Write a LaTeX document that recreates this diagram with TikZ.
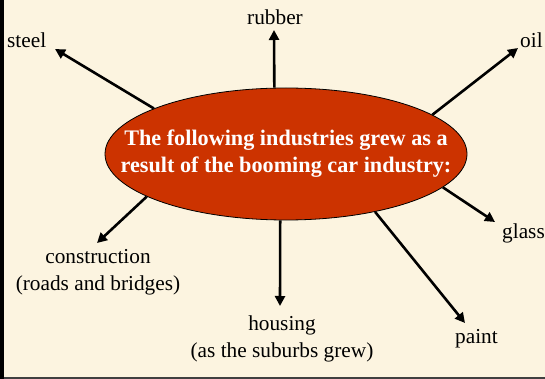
\documentclass[tikz,border=0pt]{standalone}
\usepackage{fontspec}
\setmainfont{Liberation Serif}
\usetikzlibrary{shapes.geometric,arrows.meta}
\definecolor{bgcream}{HTML}{FCF4E0}
\definecolor{ovalred}{HTML}{CC3300}
\definecolor{frameline}{HTML}{404040}
\tikzset{
  lbl/.style={inner sep=0pt, font=\fontsize{21.3}{27}\selectfont, text=black},
  multilbl/.style={lbl, align=center},
  spoke/.style={line width=2.6pt, -{Triangle[length=10pt,width=10pt]}},
}
\begin{document}
\begin{tikzpicture}[x=1pt,y=-1pt]
\useasboundingbox (0,0) rectangle (545,379);
\fill[bgcream] (0,0) rectangle (545,379);
\draw[frameline, line width=2.5pt] (0,377.8) -- (545,377.8);
\draw[black, line width=4pt] (2,0) -- (2,379);

\node[ellipse, draw=black, line width=0.8pt, fill=ovalred, minimum width=362pt, minimum height=132pt, inner sep=0pt] (ell) at (286,154) {};
\node[inner sep=0pt, align=center, text=white, font=\fontsize{22.2}{27}\bfseries] (ttl) at (286,153.5) {The following industries grew as a\\result of the booming car industry:};

\node[lbl, anchor=base west] (steel) at (7,48) {steel};
\node[lbl, anchor=base] (rubber) at (275,25) {rubber};
\node[lbl, anchor=base west] (oil) at (520,48) {oil};
\node[lbl, anchor=base west] (glass) at (502,238) {glass};
\node[lbl, anchor=base west] (paint) at (455,343) {paint};
\node[multilbl] (housing) at (282,339) {housing\\(as the suburbs grew)};
\node[multilbl] (constr) at (98,272) {construction\\(roads and bridges)};

\coordinate (tSteel) at (55,49);
\coordinate (tRubber) at (274,30);
\coordinate (tOil) at (518,48);
\coordinate (tGlass) at (495,222);
\coordinate (tPaint) at (465,323);
\coordinate (tHousing) at (280,306);
\coordinate (tConstr) at (97,243);

\draw[spoke] (ell.161.6) -- (tSteel);
\draw[spoke] (ell.100.6) -- (tRubber);
\draw[spoke] (ell.15.9) -- (tOil);
\draw[spoke] (ell.-12.2) -- (tGlass);
\draw[spoke] (ell.-33) -- (tPaint);
\draw[spoke] (ell.-95.2) -- (tHousing);
\draw[spoke] (ell.197.1) -- (tConstr);
\end{tikzpicture}
\end{document}
